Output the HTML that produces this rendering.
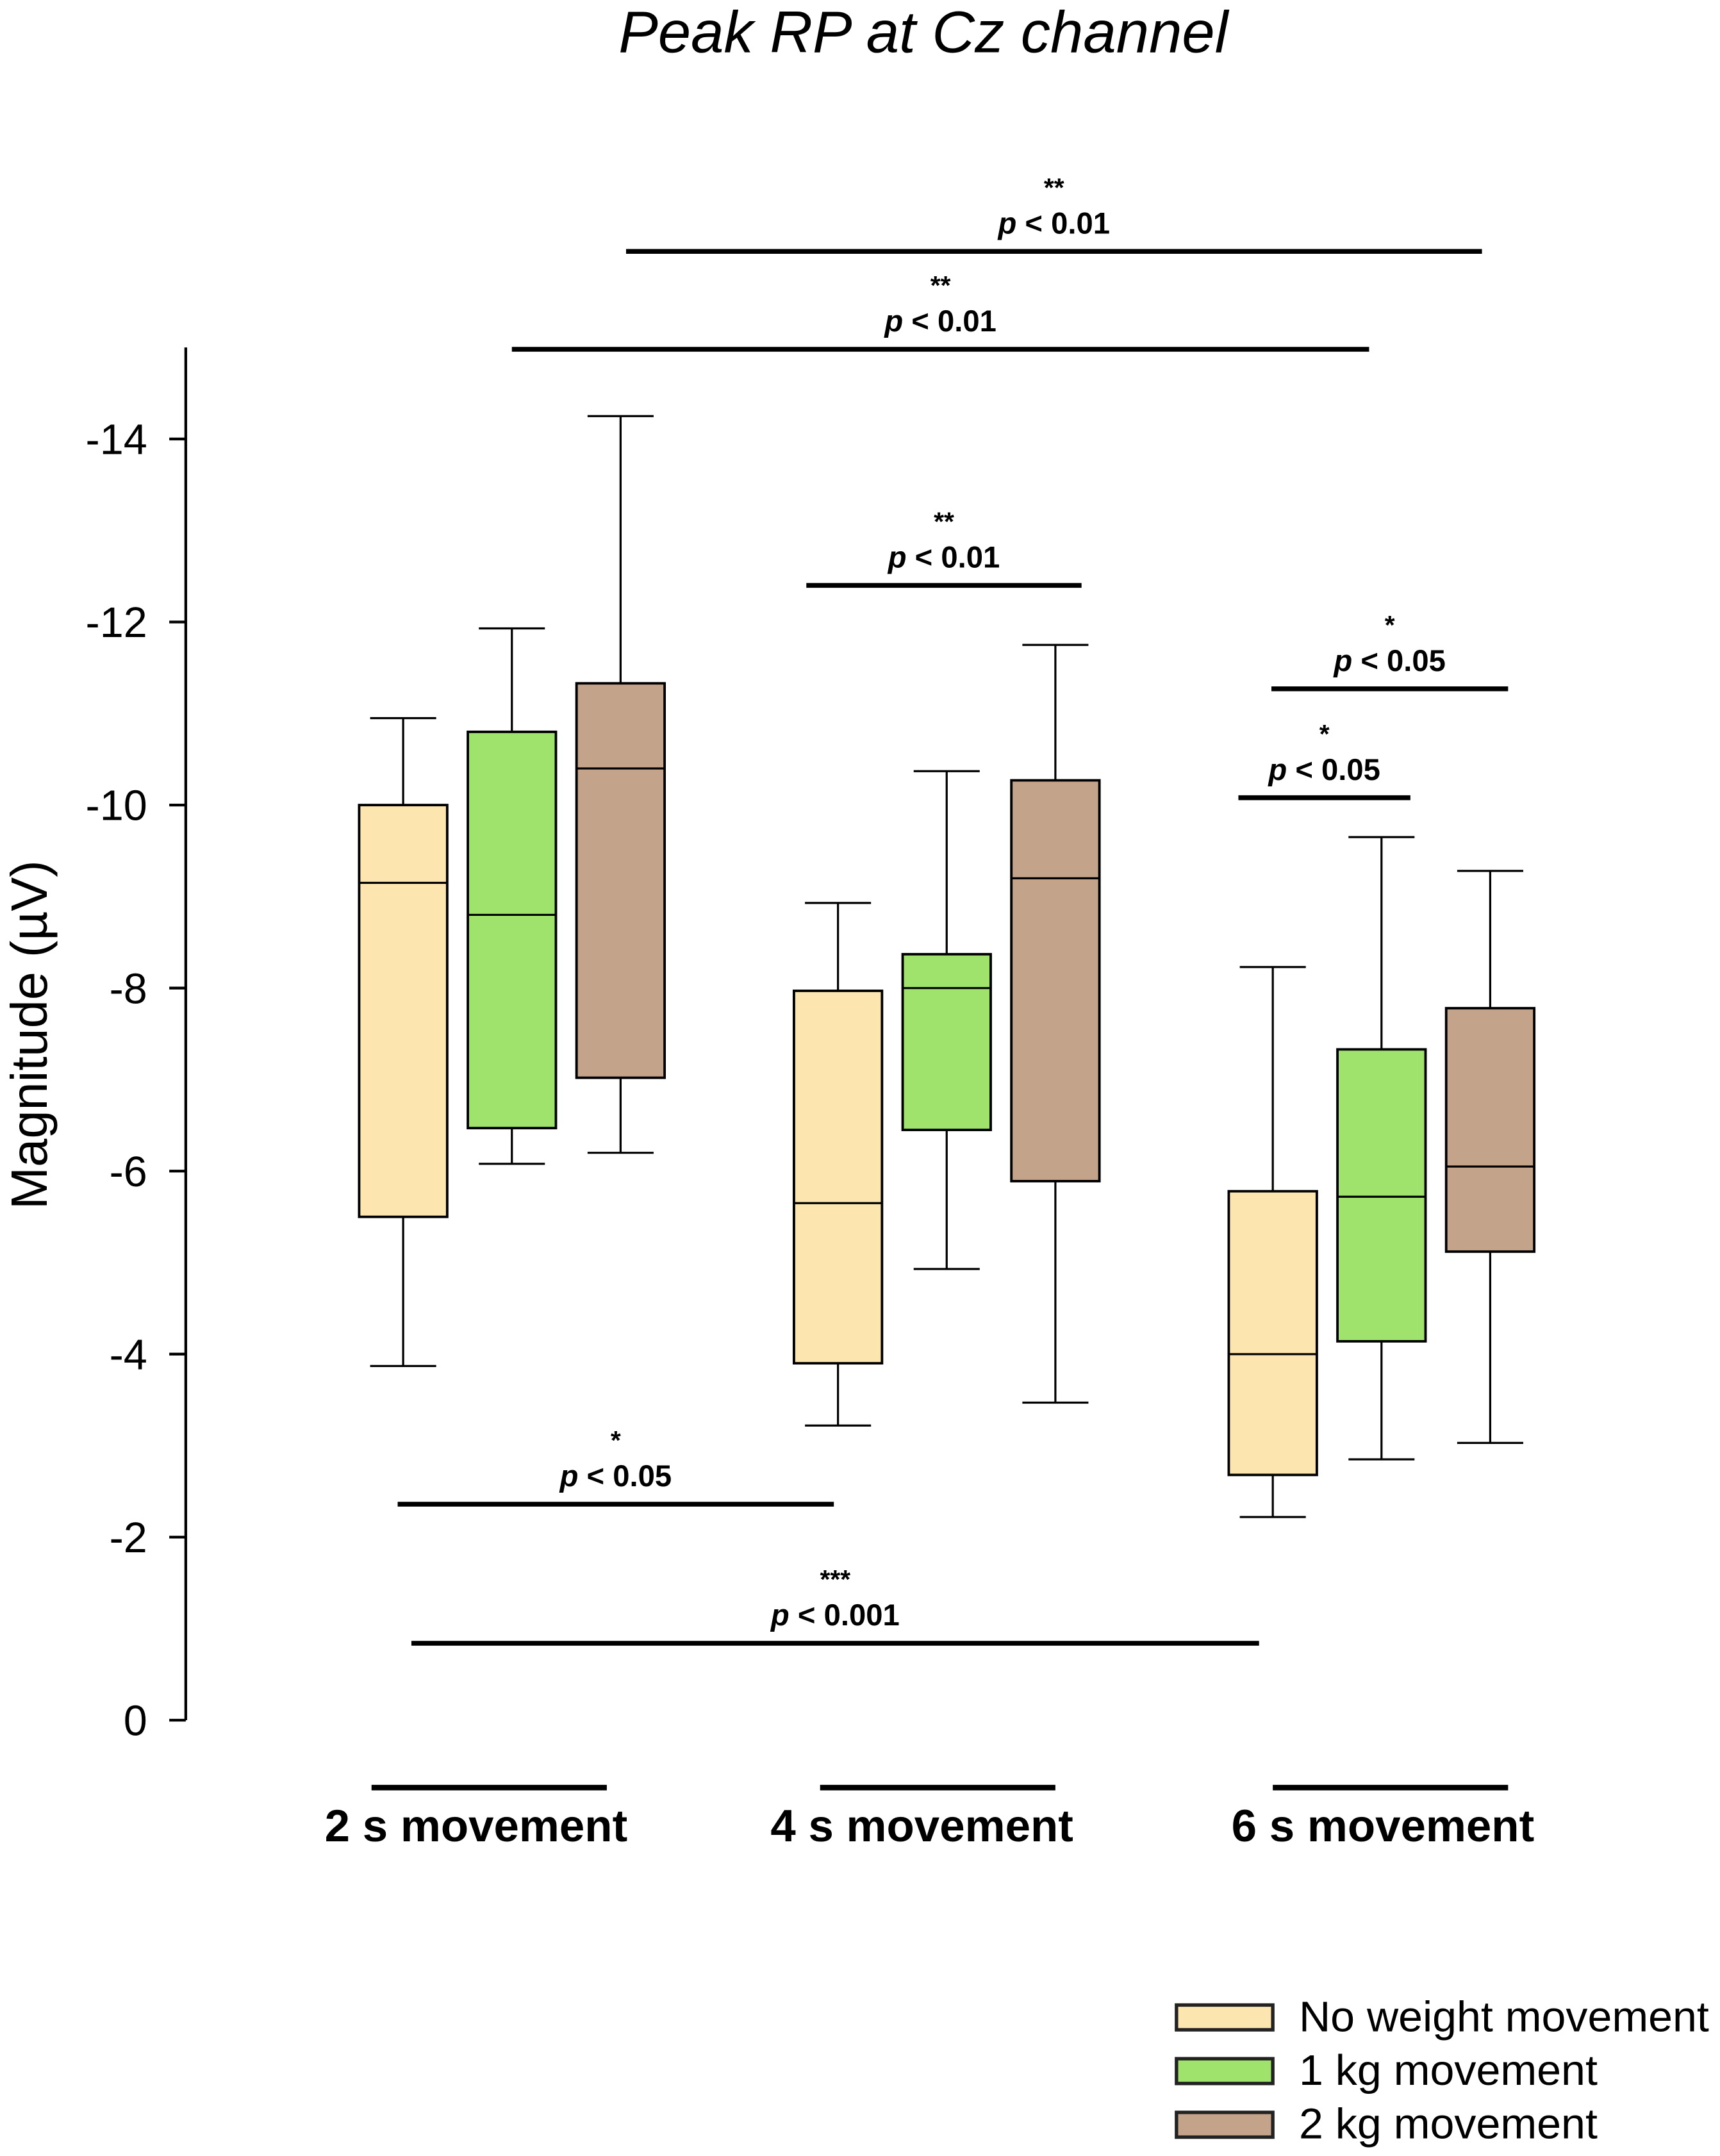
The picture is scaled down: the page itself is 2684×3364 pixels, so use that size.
<!DOCTYPE html>
<html><head><meta charset="utf-8"><style>
html,body{margin:0;padding:0;background:#fff;}
svg{display:block;}
text{font-family:"Liberation Sans",Arial,sans-serif;fill:#000;}
</style></head><body>
<svg id="chart" xmlns="http://www.w3.org/2000/svg" width="2684" height="3364" viewBox="0 0 1250 1566.7">
<rect x="0" y="0" width="1250" height="1566.7" fill="#fff"/>
<text x="671" y="38" text-anchor="middle" font-size="43" font-style="italic">Peak RP at Cz channel</text>
<g id="axis"></g>
<text transform="translate(34,752) rotate(-90)" text-anchor="middle" font-size="37">Magnitude (µV)</text>
<g id="boxes"></g>
<g id="sig"></g>
<g id="groups"></g>
<g id="legend"></g>
</svg>
<script>
const groups = ["2 s movement","4 s movement","6 s movement"];
const seriesNames = ["No weight movement","1 kg movement","2 kg movement"];
const seriesColors = ["#FDE5B0","#9FE26C","#C3A48B"];
// magnitude values (plotted as negative µV) [whiskerLow, q1, median, q3, whiskerHigh]
const noWeight = [[3.87,5.5,9.15,10.0,10.95],[3.22,3.9,5.65,7.97,8.93],[2.22,2.68,4.0,5.78,8.23]];
const oneKg = [[6.08,6.47,8.8,10.8,11.93],[4.93,6.45,8.0,8.37,10.37],[2.85,4.14,5.72,7.33,9.65]];
const twoKg = [[6.2,7.02,10.4,11.33,14.25],[3.47,5.89,9.2,10.27,11.75],[3.03,5.12,6.05,7.78,9.28]];
const tickValues = [0,-2,-4,-6,-8,-10,-12,-14];
const tickLabels = ["0","-2","-4","-6","-8","-10","-12","-14"];
const sigStars = ["**","**","**","*","*","*","***"];
const sigLabels = ["p < 0.01","p < 0.01","p < 0.01","p < 0.05","p < 0.05","p < 0.05","p < 0.001"];
const sigLevels = [16.05,14.98,12.4,11.27,10.08,2.36,0.84];

// layout (not data): bar extents in px
const SIG_X = [[455,1077],[372,995],[586,786],[924,1096],[900,1025],[289,606],[299,915]];
const GROUP_X = [[270,441],[596,767],[925,1096]];
const GROUP_LABEL_X = [346,670,1005];

const NS="http://www.w3.org/2000/svg";
const y0=1250, pxPerUnit=66.5;
const yS = m => y0 - m*pxPerUnit;
const yV = v => y0 + v*pxPerUnit;
const groupCenter = g => 372 + g*316;
const slotX = (g,s) => groupCenter(g) + (s-1)*79;
function mk(tag,attrs,parent){const e=document.createElementNS(NS,tag);for(const k in attrs)e.setAttribute(k,attrs[k]);parent.appendChild(e);return e;}

const ax=document.getElementById('axis');
mk('line',{x1:135,y1:yS(15),x2:135,y2:y0,stroke:'#000','stroke-width':2},ax);
tickValues.forEach((v,i)=>{
  const t=mk('line',{x1:123,y1:yV(v),x2:135,y2:yV(v),stroke:'#000','stroke-width':2},ax);
  
  
  const l=mk('text',{x:107,y:yV(v)+11,'text-anchor':'end','font-size':31},ax);
  l.textContent=tickLabels[i];
  
  
});

const bx=document.getElementById('boxes');
const allSeries=[noWeight,oneKg,twoKg];
allSeries.forEach((ser,s)=>{
  ser.forEach((d,g)=>{
    const cx=slotX(g,s), hw=32, cw=24;
    const grp=mk('g',{},bx);
    
    
    mk('line',{x1:cx,y1:yS(d[4]),x2:cx,y2:yS(d[3]),stroke:'#000','stroke-width':1.5},grp);
    mk('line',{x1:cx,y1:yS(d[1]),x2:cx,y2:yS(d[0]),stroke:'#000','stroke-width':1.5},grp);
    mk('line',{x1:cx-cw,y1:yS(d[4]),x2:cx+cw,y2:yS(d[4]),stroke:'#000','stroke-width':1.5},grp);
    mk('line',{x1:cx-cw,y1:yS(d[0]),x2:cx+cw,y2:yS(d[0]),stroke:'#000','stroke-width':1.5},grp);
    mk('rect',{x:cx-hw,y:yS(d[3]),width:hw*2,height:yS(d[1])-yS(d[3]),fill:seriesColors[s],stroke:'#000','stroke-width':1.8},grp);
    mk('line',{x1:cx-hw,y1:yS(d[2]),x2:cx+hw,y2:yS(d[2]),stroke:'#000','stroke-width':1.5},grp);
  });
});

const sg=document.getElementById('sig');
sigLevels.forEach((lv,i)=>{
  const x1=SIG_X[i][0], x2=SIG_X[i][1];
  const y=yS(lv), mx=(x1+x2)/2;
  const g=mk('g',{},sg);
  
  
  mk('line',{x1:x1,y1:y,x2:x2,y2:y,stroke:'#000','stroke-width':3.5},g);
  const t=mk('text',{x:mx,y:y-13,'text-anchor':'middle','font-size':22,'font-weight':'bold'},g);
  t.innerHTML='<tspan font-style="italic">p</tspan>'+sigLabels[i].slice(1).replace('<','&lt;');
  const st=mk('text',{x:mx,y:y-40,'text-anchor':'middle','font-size':19,'font-weight':'bold'},g);
  st.textContent=sigStars[i];
});

const gl=document.getElementById('groups');
groups.forEach((name,g)=>{
  const a=GROUP_X[g][0], b=GROUP_X[g][1];
  const l=mk('line',{x1:a,y1:1299,x2:b,y2:1299,stroke:'#000','stroke-width':4},gl);
  
  
  const t=mk('text',{x:GROUP_LABEL_X[g],y:1338,'text-anchor':'middle','font-size':33,'font-weight':'bold'},gl);
  t.textContent=name;
  
  
});

const lg=document.getElementById('legend');
seriesNames.forEach((n,i)=>{
  const y=1457+i*39;
  const g=mk('g',{},lg);
  
  
  mk('rect',{x:855,y:y,width:70,height:18,fill:seriesColors[i],stroke:'#222','stroke-width':2.5},g);
  const t=mk('text',{x:944,y:y+19,'font-size':31},g);
  t.textContent=n;
  if(i===0)t.setAttribute('textLength','298');
  else t.setAttribute('textLength','217');
  t.setAttribute('lengthAdjust','spacingAndGlyphs');
});
</script>
</body></html>
